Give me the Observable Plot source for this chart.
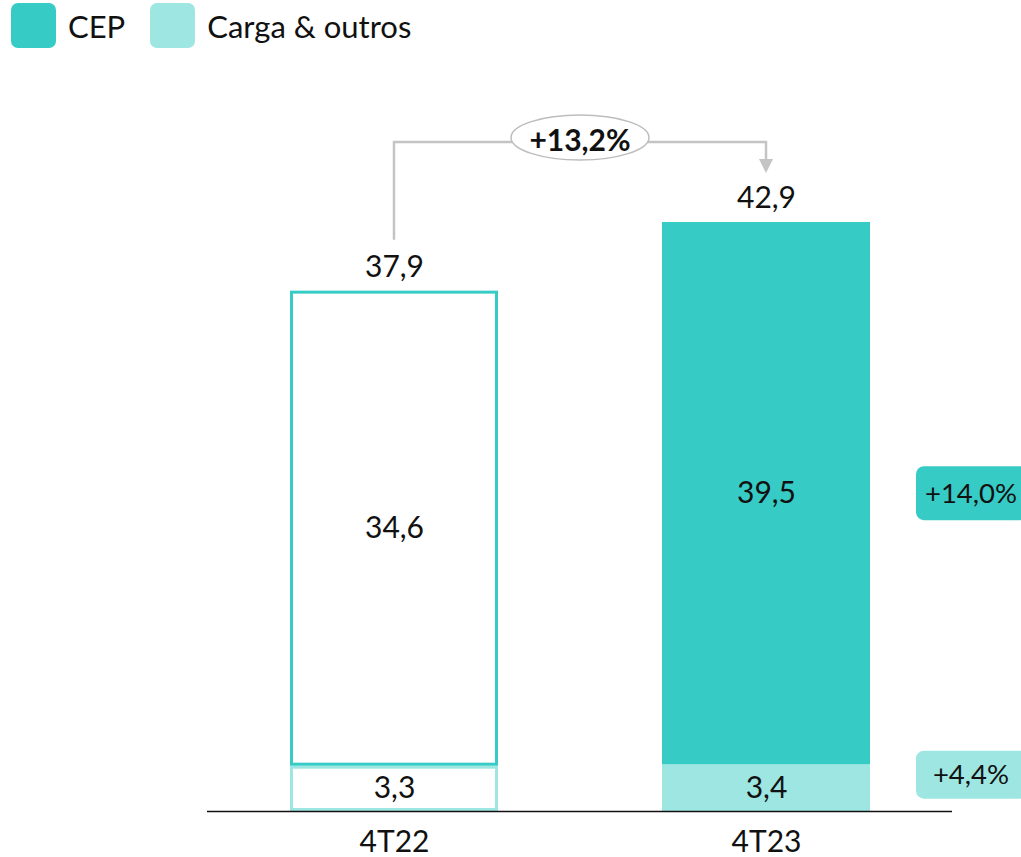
<!DOCTYPE html>
<html>
<head>
<meta charset="utf-8">
<script src="https://cdn.jsdelivr.net/npm/d3@7"></script>
<script src="https://cdn.jsdelivr.net/npm/@observablehq/plot@0.6"></script>
<style>
  html, body { margin: 0; padding: 0; background: #fff; }
  body { font-family: Lato, "Open Sans", sans-serif; color: #111; width: 1021px; height: 857px; overflow: hidden; position: relative; }
  #legend { position: absolute; left: 11px; top: 3px; height: 45px; display: flex; align-items: center; font-size: 31px; }
  .sw { width: 45px; height: 45px; border-radius: 7px; display: inline-block; margin-right: 12px; }
  .item { display: flex; align-items: center; margin-right: 25px; }
  #chart { position: absolute; left: 0; top: 55px; }
</style>
</head>
<body>
<div id="legend"></div>
<div id="chart"></div>
<script>
const periods = ["4T22", "4T23"];
const seriesNames = ["CEP", "Carga & outros"];
const seriesColors = ["#36CBC5", "#9DE6E1"];
const cep = [34.6, 39.5];
const carga = [3.3, 3.4];
const totals = [37.9, 42.9];
const totalGrowth = "+13,2%";
const cepGrowth = "+14,0%";
const cargaGrowth = "+4,4%";

const fmt = v => v.toFixed(1).replace(".", ",");

// legend
const legend = document.getElementById("legend");
seriesNames.forEach((s, i) => {
  const it = document.createElement("div");
  it.className = "item";
  it.innerHTML = `<span class="sw" style="background:${seriesColors[i]}"></span><span>${s}</span>`;
  legend.appendChild(it);
});

const rows = [];
periods.forEach((p, i) => {
  rows.push({period: p, series: "Carga & outros", y1: 0, y2: carga[i], value: carga[i], outline: i === 0});
  rows.push({period: p, series: "CEP", y1: carga[i], y2: carga[i] + cep[i], value: cep[i], outline: i === 0});
});
const totalRows = periods.map((p, i) => ({period: p, total: totals[i]}));

function annotations(index, scales, values, dims) {
  const x = scales.x, y = scales.y;
  const bw = x.bandwidth ? x.bandwidth() : 208;
  const cx0 = x(periods[0]) + bw / 2;
  const cx1 = x(periods[1]) + bw / 2;
  const yStart = y(totals[0]) - 51;
  const yLine = y(d3.max(totals)) - 80;
  const yTip = y(totals[1]) - 49;
  const g = d3.create("svg:g");
  const grey = "#c4c4c4";
  g.append("path")
    .attr("d", `M${cx0},${yStart}V${yLine}H${cx1}V${yTip - 13}`)
    .attr("fill", "none").attr("stroke", grey).attr("stroke-width", 2.5);
  g.append("path")
    .attr("d", `M${cx1 - 7},${yTip - 14}L${cx1 + 7},${yTip - 14}L${cx1},${yTip}Z`)
    .attr("fill", grey);
  const mx = (cx0 + cx1) / 2;
  g.append("ellipse")
    .attr("cx", mx).attr("cy", yLine - 4.5).attr("rx", 69).attr("ry", 22.5)
    .attr("fill", "#fff").attr("stroke", "#bdbdbd").attr("stroke-width", 1.5);
  g.append("text")
    .attr("x", mx).attr("y", yLine - 2).attr("dy", "0.35em")
    .attr("text-anchor", "middle").attr("font-weight", "bold").attr("font-size", 30)
    .attr("fill", "#111").text(totalGrowth);

  // badges
  const bx = x(periods[1]) + bw + 46;
  const badges = [
    {cy: y(carga[1] + cep[1] / 2), h: 54, fill: seriesColors[0], label: cepGrowth},
    {cy: y(carga[1] / 2) - 13, h: 48, fill: seriesColors[1], label: cargaGrowth}
  ];
  for (const b of badges) {
    g.append("rect").attr("x", bx).attr("y", b.cy - b.h / 2).attr("width", 112).attr("height", b.h)
      .attr("rx", 8).attr("fill", b.fill);
    g.append("text").attr("x", bx + 55).attr("y", b.cy).attr("dy", "0.35em")
      .attr("text-anchor", "middle").attr("font-size", 27.5).attr("fill", "#111").text(b.label);
  }
  return g.node();
}

const chart = Plot.plot({
  width: 1021,
  height: 802,
  marginLeft: 207,
  marginRight: 69,
  marginTop: 167,
  marginBottom: 46,
  style: {fontFamily: "Lato, 'Open Sans', sans-serif", fontSize: "30px", color: "#111", overflow: "visible"},
  x: {type: "band", domain: periods, paddingInner: 0.442, paddingOuter: 0.221, axis: null},
  y: {domain: [0, d3.max(totals)], axis: null},
  color: {domain: seriesNames, range: seriesColors},
  marks: [
    Plot.barY(rows.filter(d => !d.outline), {x: "period", y1: "y1", y2: "y2", fill: "series"}),
    Plot.barY(rows.filter(d => d.outline && d.series !== "CEP"), {x: "period", y1: "y1", y2: "y2", fill: "#fff", stroke: "series", strokeWidth: 3, inset: 1.5}),
    Plot.barY(rows.filter(d => d.outline && d.series === "CEP"), {x: "period", y1: "y1", y2: "y2", fill: "#fff", stroke: "series", strokeWidth: 3, inset: 1.5}),
    Plot.ruleY([0], {stroke: "#111", strokeWidth: 1.5}),
    Plot.text(rows, {x: "period", y: d => (d.y1 + d.y2) / 2, text: d => fmt(d.value), fontSize: 30, fill: "#111"}),
    Plot.text(totalRows, {x: "period", y: "total", text: d => fmt(d.total), dy: -24, fontSize: 30, fill: "#111"}),
    Plot.text(periods, {x: d => d, y: () => 0, text: d => d, dy: 31, fontSize: 30, fill: "#111"}),
    annotations
  ]
});
document.getElementById("chart").appendChild(chart);
</script>
</body>
</html>
